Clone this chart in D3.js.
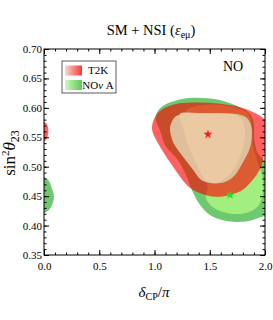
<html>
<head>
<style>
  body { margin: 0; background: #fff; }
  text { font-family: "Liberation Serif", "Times New Roman", serif; fill: #000; }
  .axis path { display: none; }
  .axis line { stroke: #000; stroke-width: 1px; }
  .axis text { font-size: 11px; }
</style>
</head>
<body>
<div class="chart"></div>
<script src="https://d3js.org/d3.v7.min.js"></script>
<script>
// contours: [delta_CP/pi, sin^2 theta23]
var novaOuter = [[1.01,0.583],[1.035,0.596],[1.09,0.605],[1.204,0.613],[1.348,0.617],[1.566,0.614],
  [1.71,0.606],[1.792,0.599],[1.86,0.591],[1.895,0.577],[1.905,0.545],[1.93,0.525],[1.99,0.511],
  [2.04,0.49],[2.05,0.45],[2.03,0.42],[1.955,0.414],[1.864,0.408],[1.747,0.406],[1.62,0.409],
  [1.502,0.418],[1.412,0.435],[1.339,0.46],[1.285,0.486],[1.213,0.511],[1.095,0.537],[1.059,0.557],[1.025,0.572]];
var novaOuterWrap = [[-0.05,0.485],[0.03,0.479],[0.07,0.464],[0.09,0.45],[0.075,0.436],[0.035,0.425],[-0.05,0.42]];
var novaInner = [[1.30,0.598],[1.457,0.605],[1.638,0.604],[1.774,0.598],[1.855,0.588],[1.882,0.566],
  [1.891,0.537],[1.928,0.511],[1.973,0.486],[1.982,0.457],[1.937,0.433],[1.819,0.421],[1.665,0.421],
  [1.529,0.431],[1.466,0.447],[1.48,0.465],[1.45,0.485],[1.38,0.52],[1.3,0.56],[1.27,0.585]];
var t2kOuter = [[0.986,0.576],[1.023,0.590],[1.095,0.600],[1.204,0.607],[1.367,0.609],[1.548,0.608],
  [1.729,0.603],[1.864,0.595],[1.973,0.584],[2.02,0.575],[2.04,0.56],[2.03,0.54],[2.0,0.525],
  [1.98,0.51],[1.955,0.496],[1.882,0.476],[1.792,0.460],[1.683,0.452],[1.557,0.449],[1.412,0.455],
  [1.303,0.467],[1.24,0.481],[1.176,0.498],[1.113,0.515],[1.041,0.537],[0.995,0.553],[0.977,0.565]];
var t2kOuterWrap = [[-0.05,0.578],[0.02,0.574],[0.04,0.562],[0.03,0.55],[0.01,0.544],[-0.05,0.542]];
var t2kInner = [[1.156,0.576],[1.195,0.586],[1.276,0.590],[1.412,0.591],[1.593,0.591],[1.756,0.589],
  [1.834,0.583],[1.873,0.571],[1.882,0.554],[1.864,0.532],[1.801,0.508],[1.729,0.486],[1.638,0.474],
  [1.518,0.472],[1.427,0.477],[1.337,0.498],[1.246,0.520],[1.167,0.542],[1.140,0.566]];
var t2kCore = [[1.231,0.590],[1.412,0.5907],[1.611,0.5906],[1.738,0.588],[1.792,0.579],[1.819,0.559],
  [1.801,0.532],[1.747,0.506],[1.674,0.486],[1.593,0.475],[1.511,0.4725],[1.448,0.481],[1.376,0.506],
  [1.303,0.537],[1.258,0.566],[1.231,0.581]];
var bestFit = [{name: "T2K", x: 1.484, y: 0.555, color: "#ff1a1a"},
               {name: "NOvA", x: 1.683, y: 0.452, color: "#22e022"}];
var xTicks = [0, 0.5, 1.0, 1.5, 2.0];
var yTicks = [0.35, 0.40, 0.45, 0.50, 0.55, 0.60, 0.65, 0.70];

var W = 273, H = 320;
var pl = 44, pr = 265, pt = 49, pb = 255;

var svg = d3.select(".chart").append("svg")
    .attr("width", W).attr("height", H);

var x = d3.scaleLinear().domain([0, 2]).range([pl, pr]);
var y = d3.scaleLinear().domain([0.35, 0.70]).range([pb, pt]);

var defs = svg.append("defs");
defs.append("clipPath").attr("id", "plot")
  .append("rect").attr("x", pl).attr("y", pt)
  .attr("width", pr - pl).attr("height", pb - pt);

function grad(id, c0, c1) {
  var g = defs.append("linearGradient").attr("id", id);
  g.append("stop").attr("offset", "0%").attr("stop-color", c0);
  g.append("stop").attr("offset", "100%").attr("stop-color", c1);
}
grad("gT2K", "#ffd6cc", "#f43a3a");
grad("gNOvA", "#cdf9b8", "#5cc85c");

var line = d3.line()
    .x(function(d){ return x(d[0]); })
    .y(function(d){ return y(d[1]); })
    .curve(d3.curveCatmullRomClosed.alpha(0.5));

var plot = svg.append("g").attr("clip-path", "url(#plot)");

function region(pts, fill, op) {
  plot.append("path").attr("d", line(pts))
    .attr("fill", fill).attr("fill-opacity", op == null ? 1 : op);
}
region(novaOuter, "#6ec86e");
region(novaOuterWrap, "#6ec86e");
region(novaInner, "#a2ee7e");
region(t2kOuter, "#ff0000", 0.62);
region(t2kOuterWrap, "#ff0000", 0.62);
region(t2kInner, "#dfbe9b");
region(t2kCore, "#ebcaa3");

plot.selectAll(".star")
    .data(bestFit)
  .enter().append("path")
    .attr("class", "star")
    .attr("d", d3.symbol(d3.symbolStar).size(26))
    .attr("transform", function(d){ return "translate(" + x(d.x) + "," + y(d.y) + ")"; })
    .attr("fill", function(d){ return d.color; });

// axes, ticks pointing inward
var xMinor = d3.range(0, 2.001, 0.1);
var yMinor = d3.range(0.35, 0.7001, 0.01);

function addAxis(axis, tr) {
  svg.append("g").attr("class", "axis").attr("transform", tr).call(axis);
}
addAxis(d3.axisBottom(x).tickValues(xMinor).tickSize(-2.5).tickFormat(""), "translate(0," + pb + ")");
addAxis(d3.axisBottom(x).tickValues(xTicks).tickSize(-5).tickPadding(7).tickFormat(d3.format(".1f")), "translate(0," + pb + ")");
addAxis(d3.axisTop(x).tickValues(xMinor).tickSize(-2.5).tickFormat(""), "translate(0," + pt + ")");
addAxis(d3.axisTop(x).tickValues(xTicks).tickSize(-5).tickFormat(""), "translate(0," + pt + ")");
addAxis(d3.axisLeft(y).tickValues(yMinor).tickSize(-2.5).tickFormat(""), "translate(" + pl + ",0)");
addAxis(d3.axisLeft(y).tickValues(yTicks).tickSize(-5).tickPadding(2).tickFormat(d3.format(".2f")), "translate(" + pl + ",0)");
addAxis(d3.axisRight(y).tickValues(yMinor).tickSize(-2.5).tickFormat(""), "translate(" + pr + ",0)");
addAxis(d3.axisRight(y).tickValues(yTicks).tickSize(-5).tickFormat(""), "translate(" + pr + ",0)");

svg.append("rect")
    .attr("x", pl).attr("y", pt)
    .attr("width", pr - pl).attr("height", pb - pt)
    .attr("fill", "none").attr("stroke", "#000").attr("stroke-width", 1);

// legend
var lg = svg.append("g");
lg.append("rect").attr("x", 62).attr("y", 61).attr("width", 54).attr("height", 32)
  .attr("fill", "#fff").attr("stroke", "#333").attr("stroke-width", 0.8);
lg.append("rect").attr("x", 65).attr("y", 65.5).attr("width", 17).attr("height", 10).attr("fill", "url(#gT2K)");
lg.append("rect").attr("x", 65).attr("y", 80).attr("width", 17).attr("height", 10).attr("fill", "url(#gNOvA)");
lg.append("text").attr("x", 98).attr("y", 74).attr("text-anchor", "middle")
  .style("font-size", "11px").text("T2K");
var nt = lg.append("text").attr("x", 98).attr("y", 88.5).attr("text-anchor", "middle")
  .style("font-size", "11px");
nt.append("tspan").text("NO");
nt.append("tspan").style("font-style", "italic").text("\u03bd");
nt.append("tspan").text(" A");

// title
var t = svg.append("text").attr("x", 151).attr("y", 35).attr("text-anchor", "middle")
  .style("font-size", "14.5px");
t.append("tspan").text("SM + NSI (");
t.append("tspan").style("font-style", "italic").text("\u03b5");
t.append("tspan").attr("dy", 3).style("font-size", "10px").text("e\u03bc");
t.append("tspan").attr("dy", -3).text(")");

svg.append("text").attr("x", 233).attr("y", 71).attr("text-anchor", "middle")
  .style("font-size", "14px").text("NO");

// axis titles
var xl = svg.append("text").attr("x", 154).attr("y", 297).attr("text-anchor", "middle")
  .style("font-size", "15px");
xl.append("tspan").style("font-style", "italic").text("\u03b4");
xl.append("tspan").attr("dy", 3).style("font-size", "10px").text("CP");
xl.append("tspan").attr("dy", -3).text("/");
xl.append("tspan").style("font-style", "italic").text("\u03c0");

var yl = svg.append("text").attr("transform", "translate(15,153) rotate(-90)")
  .attr("text-anchor", "middle").style("font-size", "17px");
yl.append("tspan").text("sin");
yl.append("tspan").attr("dy", -6).style("font-size", "11px").text("2");
yl.append("tspan").attr("dy", 6).style("font-style", "italic").text("\u03b8");
yl.append("tspan").attr("dy", 4).style("font-size", "12px").text("23");
</script>
</body>
</html>
